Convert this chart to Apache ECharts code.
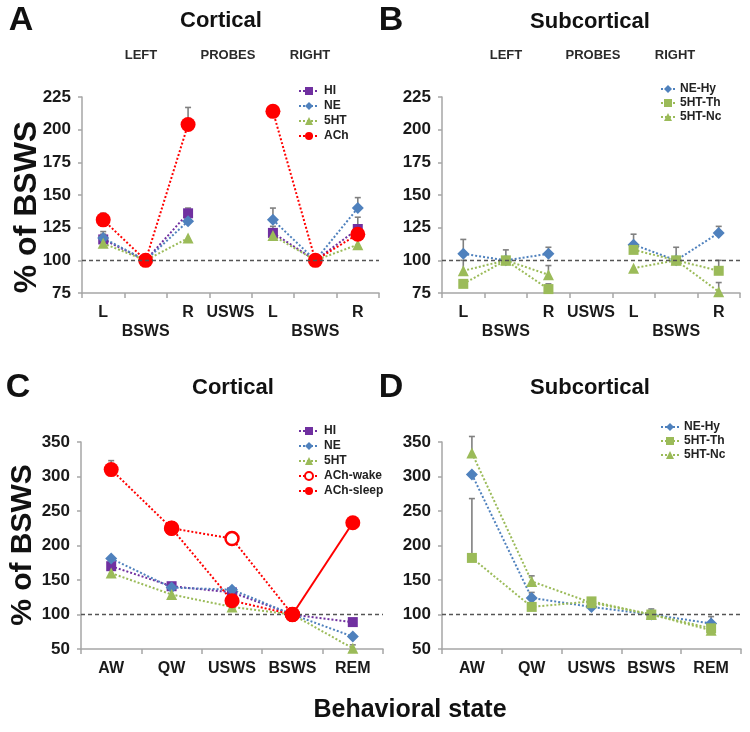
<!DOCTYPE html>
<html><head><meta charset="utf-8">
<script src="https://cdn.jsdelivr.net/npm/echarts@6/dist/echarts.min.js"></script>
<style>html,body{margin:0;padding:0;background:#fff}#c{width:750px;height:732px}</style>
</head><body><div id="c"></div>
<script>
// ---------- categories ----------
const probeCats = ['L','BSWS','R','USWS','L','BSWS','R'];
const stateCats = ['AW','QW','USWS','BSWS','REM'];

// ---------- Panel A : Cortical, left/right probes ----------
const aHI     = [116,100,136,null,121,100,124];
const aNE     = [117,100,130,null,131,100,140];
const a5HT    = [113,100,117,null,119,100,112];
const aACh    = [131,100,204,null,214,100,120];
const aHIErr  = [6,0,4,0,5,0,9];
const aNEErr  = [3,0,3,0,9,0,8];
const a5HTErr = [2,0,0,0,0,0,0];
const aAChErr = [5,0,13,0,0,0,0];

// ---------- Panel B : Subcortical, left/right probes ----------
const bNEHy     = [105,100,105,null,112,100,121];
const b5HTTh    = [82,100,78,null,108,100,92];
const b5HTNc    = [92,100,89,null,94,100,76];
const bNEHyErr  = [11,0,5,0,8,0,5];
const b5HTThErr = [3,8,4,0,0,10,8];
const b5HTNcErr = [8,0,7,0,0,0,7];

// ---------- Panel C : Cortical, behavioral states ----------
const cHI        = [170,141,132,100,89];
const cNE        = [181,139,136,100,68];
const c5HT       = [160,129,111,100,51];
const cAChWake   = [null,225,210,100,null];
const cAChSleep  = [310,225,120,100,null];
const cAChREM    = [null,null,null,100,233];
const cAChSleepErr = [13,7,0,0,0];
const cAChWakeErr  = [0,0,8,0,0];
const c5HTErr      = [0,0,0,0,5];

// ---------- Panel D : Subcortical, behavioral states ----------
const dNEHy     = [303,124,111,100,87];
const d5HTTh    = [182,111,119,100,80];
const d5HTNc    = [334,148,117,100,77];
const dNEHyErr  = [0,8,0,0,10];
const d5HTThErr = [86,0,0,8,0];
const d5HTNcErr = [24,8,0,0,0];

// ---------- styling ----------
const FONT = "'Liberation Sans', Arial, sans-serif";
const C_HI = '#7030A0', C_NE = '#4F81BD', C_5HT = '#9BBB59', C_ACH = '#FF0000';
const AXC = '#a6a6a6', TXT = '#1a1a1a', ERRC = '#808080';

function line(name, data, gi, color, symbol, size, extra) {
  return Object.assign({
    name, type:'line', xAxisIndex:gi, yAxisIndex:gi, data,
    symbol, symbolSize:size, connectNulls:false,
    itemStyle:{color}, lineStyle:{color, width:2, type:[2,2]},
    emphasis:{disabled:true}, z:3
  }, extra || {});
}
function errData(vals, errs) {
  const out = [];
  vals.forEach((v,i) => { if (v != null && errs[i] > 0) out.push([i, v, errs[i]]); });
  return out;
}
function errSeries(gi, vals, errs) {
  return {
    type:'custom', xAxisIndex:gi, yAxisIndex:gi, z:2, silent:true,
    encode:{x:0, y:1},
    data: errData(vals, errs),
    renderItem(params, api) {
      const x = api.value(0), v = api.value(1), e = api.value(2);
      const p0 = api.coord([x, v]), p1 = api.coord([x, v + e]);
      const st = {stroke:ERRC, lineWidth:1.6};
      return {type:'group', children:[
        {type:'line', shape:{x1:p0[0], y1:p0[1], x2:p1[0], y2:p1[1]}, style:st},
        {type:'line', shape:{x1:p1[0]-3, y1:p1[1], x2:p1[0]+3, y2:p1[1]}, style:st}
      ]};
    }
  };
}
const refLine = {
  silent:true, symbol:'none', label:{show:false}, animation:false,
  lineStyle:{type:[4,3], color:'#555', width:1.4},
  data:[{yAxis:100}]
};
function xAxis(gi, cats, twoRow) {
  return {
    gridIndex:gi, type:'category', data:cats, boundaryGap:true,
    axisLine:{lineStyle:{color:AXC, width:1.5}},
    axisTick:{show:true, length:5, lineStyle:{color:AXC, width:1.5}},
    axisLabel:{
      interval:0, fontSize:16, fontWeight:'bold', color:TXT, fontFamily:FONT,
      lineHeight:19, margin:10,
      formatter:(v, i) => (twoRow && cats[i] === 'BSWS') ? '\n' + cats[i] : cats[i]
    },
    splitLine:{show:false}
  };
}
function yAxis(gi, min, max, step) {
  return {
    gridIndex:gi, type:'value', min, max, interval:step,
    axisLine:{show:true, lineStyle:{color:AXC, width:1.5}},
    axisTick:{show:true, length:4, lineStyle:{color:AXC, width:1.5}},
    axisLabel:{fontSize:17, fontWeight:'bold', color:TXT, fontFamily:FONT, margin:11},
    splitLine:{show:false}
  };
}
function legend(names, left, top, w, gap) {
  return {
    data:names, left, top, orient:'vertical', padding:0,
    itemWidth:w, itemHeight:10, itemGap:gap, selectedMode:false,
    textStyle:{fontSize:12, fontWeight:'bold', color:'#222', fontFamily:FONT, lineHeight:12}
  };
}
function txt(text, x, y, size, extra, color) {
  return Object.assign({
    type:'text', x, y, silent:true,
    style:{text, font:'bold ' + size + 'px ' + FONT, fill:color || '#111',
      textAlign:'center', textVerticalAlign:'middle', align:'center', verticalAlign:'middle'}
  }, extra || {});
}

const option = {
  animation:false,
  backgroundColor:'#fff',
  textStyle:{fontFamily:FONT},
  grid:[
    {left:82, top:97, width:297, height:196},
    {left:442, top:97, width:298, height:196},
    {left:81, top:442, width:302, height:207},
    {left:442, top:442, width:299, height:207}
  ],
  xAxis:[
    xAxis(0, probeCats, true), xAxis(1, probeCats, true),
    xAxis(2, stateCats, false), xAxis(3, stateCats, false)
  ],
  yAxis:[
    yAxis(0, 75, 225, 25), yAxis(1, 75, 225, 25),
    yAxis(2, 50, 350, 50), yAxis(3, 50, 350, 50)
  ],
  legend:[
    legend(['HI','NE','5HT','ACh'], 298, 85, 20, 3),
    legend(['NE-Hy','5HT-Th','5HT-Nc'], 660, 83, 14, 2),
    legend(['HI','NE','5HT','ACh-wake','ACh-sleep'], 298, 425, 20, 3),
    legend(['NE-Hy','5HT-Th','5HT-Nc'], 660, 421, 18, 2)
  ],
  series:[
    // A
    errSeries(0, aHI, aHIErr), errSeries(0, aNE, aNEErr),
    errSeries(0, a5HT, a5HTErr), errSeries(0, aACh, aAChErr),
    line('HI', aHI, 0, C_HI, 'rect', 10, {markLine:refLine}),
    line('NE', aNE, 0, C_NE, 'diamond', 12),
    line('5HT', a5HT, 0, C_5HT, 'triangle', 11),
    line('ACh', aACh, 0, C_ACH, 'circle', 15, {z:4}),
    // B
    errSeries(1, bNEHy, bNEHyErr), errSeries(1, b5HTTh, b5HTThErr), errSeries(1, b5HTNc, b5HTNcErr),
    line('NE-Hy', bNEHy, 1, C_NE, 'diamond', 12, {markLine:refLine}),
    line('5HT-Th', b5HTTh, 1, C_5HT, 'rect', 10),
    line('5HT-Nc', b5HTNc, 1, C_5HT, 'triangle', 11),
    // C
    errSeries(2, cAChSleep, cAChSleepErr), errSeries(2, cAChWake, cAChWakeErr), errSeries(2, c5HT, c5HTErr),
    line('HI', cHI, 2, C_HI, 'rect', 10, {markLine:refLine}),
    line('NE', cNE, 2, C_NE, 'diamond', 12),
    line('5HT', c5HT, 2, C_5HT, 'triangle', 11),
    line('ACh-wake', cAChWake, 2, C_ACH, 'circle', 13,
      {itemStyle:{color:'#fff', borderColor:C_ACH, borderWidth:2.5}, z:4}),
    line('ACh-sleep', cAChSleep, 2, C_ACH, 'circle', 15, {z:5}),
    line('ACh-sleep-REM', cAChREM, 2, C_ACH, 'circle', 15,
      {lineStyle:{color:C_ACH, width:2, type:'solid'}, z:5}),
    // D
    errSeries(3, dNEHy, dNEHyErr), errSeries(3, d5HTTh, d5HTThErr), errSeries(3, d5HTNc, d5HTNcErr),
    line('NE-Hy', dNEHy, 3, C_NE, 'diamond', 12, {markLine:refLine}),
    line('5HT-Th', d5HTTh, 3, C_5HT, 'rect', 10),
    line('5HT-Nc', d5HTNc, 3, C_5HT, 'triangle', 11)
  ],
  graphic:[
    txt('A', 21, 21, 34), txt('B', 391, 21, 34),
    txt('C', 18, 388, 34), txt('D', 391, 388, 34),
    txt('Cortical', 221, 21, 22), txt('Subcortical', 590, 22, 22),
    txt('Cortical', 233, 388, 22), txt('Subcortical', 590, 388, 22),
    txt('LEFT', 141, 55, 13, null, '#2a2a2a'),
    txt('PROBES', 228, 55, 13, null, '#2a2a2a'),
    txt('RIGHT', 310, 55, 13, null, '#2a2a2a'),
    txt('LEFT', 506, 55, 13, null, '#2a2a2a'),
    txt('PROBES', 593, 55, 13, null, '#2a2a2a'),
    txt('RIGHT', 675, 55, 13, null, '#2a2a2a'),
    txt('% of BSWS', 27, 207, 32, {rotation:Math.PI/2}),
    txt('% of BSWS', 23, 545, 30, {rotation:Math.PI/2}),
    txt('Behavioral state', 410, 710, 25)
  ]
};
const chart = echarts.init(document.getElementById('c'), null, {renderer:'canvas'});
chart.setOption(option);
</script></body></html>
